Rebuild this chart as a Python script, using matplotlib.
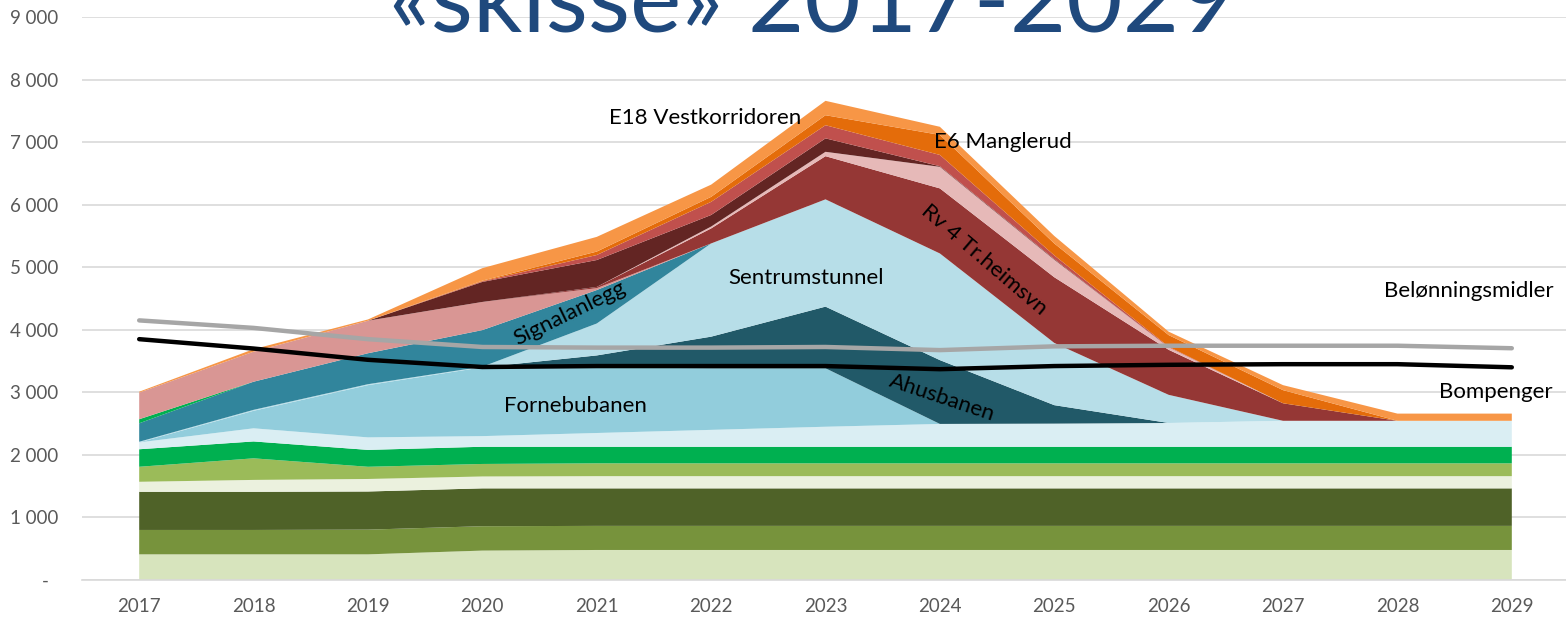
"""Stacked area sketch of Oslopakke 3 spending, 2017-2029."""

import matplotlib
matplotlib.use('Agg')
import matplotlib.pyplot as plt

plt.rcParams['font.family'] = ['Lato', 'DejaVu Sans']

years = [2017, 2018, 2019, 2020, 2021, 2022, 2023, 2024, 2025, 2026, 2027, 2028, 2029]

# stacked series, bottom to top
base_light = [410, 410, 410, 470, 480, 480, 480, 480, 480, 480, 480, 480, 480]
base_mid = [390, 390, 395, 390, 385, 385, 385, 385, 385, 385, 385, 385, 385]
base_dark = [610, 610, 610, 605, 600, 600, 600, 600, 600, 600, 600, 600, 600]
base_pale = [160, 190, 200, 190, 195, 195, 195, 195, 195, 195, 195, 195, 195]
base_green = [240, 345, 195, 200, 205, 205, 205, 205, 205, 205, 205, 205, 205]
base_bright = [280, 270, 270, 275, 265, 265, 265, 265, 265, 265, 265, 265, 265]
base_blue = [110, 210, 200, 170, 220, 270, 320, 365, 370, 380, 415, 415, 415]
fornebu = [0, 280, 835, 1100, 1050, 985, 935, 0, 0, 0, 0, 0, 0]
ahus = [0, 0, 0, 0, 190, 505, 985, 1020, 295, 0, 0, 0, 0]
sentrum = [10, 15, 15, 10, 510, 1490, 1715, 1705, 995, 450, 0, 0, 0]
signal = [295, 450, 495, 585, 535, 0, 0, 0, 0, 0, 0, 0, 0]
green_bit = [65, 0, 0, 0, 0, 0, 0, 0, 0, 0, 0, 0, 0]
pink = [425, 480, 520, 450, 30, 0, 0, 0, 0, 0, 0, 0, 0]
rv4 = [0, 0, 0, 0, 20, 240, 690, 1040, 1050, 720, 280, 0, 0]
pale_pink = [0, 0, 0, 0, 0, 30, 70, 345, 280, 40, 0, 0, 0]
brown = [0, 0, 0, 320, 430, 185, 215, 10, 10, 0, 0, 0, 0]
red = [0, 0, 0, 10, 80, 210, 210, 180, 60, 10, 0, 0, 0]
e6 = [0, 0, 0, 10, 55, 80, 160, 320, 190, 185, 210, 0, 0]
e18 = [15, 40, 20, 200, 235, 195, 230, 130, 120, 55, 80, 115, 115]

belonning = [4150, 4030, 3850, 3725, 3715, 3715, 3725, 3675, 3735, 3745, 3745, 3745, 3705]
bompenger = [3850, 3700, 3520, 3405, 3420, 3420, 3420, 3370, 3420, 3440, 3450, 3450, 3400]

yticks = [0, 1000, 2000, 3000, 4000, 5000, 6000, 7000, 8000, 9000]
ytick_labels = ['-  ', '1 000', '2 000', '3 000', '4 000', '5 000',
                '6 000', '7 000', '8 000', '9 000']

series = [base_light, base_mid, base_dark, base_pale, base_green, base_bright,
          base_blue, fornebu, ahus, sentrum, signal, green_bit, pink, rv4,
          pale_pink, brown, red, e6, e18]
colors = ['#D7E4BD', '#77933C', '#4F6228', '#EBF1DE', '#9BBB59', '#00B050',
          '#DAEEF3', '#92CDDC', '#215968', '#B7DEE8', '#31859C', '#00B050',
          '#D99694', '#953735', '#E6B9B8', '#632523', '#C0504D', '#E46C0A',
          '#F79646']

TICK_COLOR = '#595959'
GRID_COLOR = '#D9D9D9'
TITLE_COLOR = '#1F497D'

fig = plt.figure(figsize=(15.66, 6.17), dpi=100)
fig.patch.set_facecolor('white')
ax = fig.add_axes([82 / 1566, 37 / 617, 1487 / 1566, 563 / 617])

ax.stackplot(years, *series, colors=colors, linewidth=0, zorder=2)

ax.plot(years, belonning, color='#A6A6A6', lw=3.2, solid_capstyle='round', zorder=4)
ax.plot(years, bompenger, color='black', lw=3.2, solid_capstyle='round', zorder=4)

ax.set_xlim(2016.5, 2029.5)
ax.set_ylim(0, 9000)
ax.set_xticks(years)
ax.set_xticklabels([str(y) for y in years])
ax.set_yticks(yticks)
ax.set_yticklabels(ytick_labels)
ax.tick_params(axis='both', length=0, labelsize=13.5, colors=TICK_COLOR)
ax.tick_params(axis='x', pad=13)
ax.tick_params(axis='y', pad=17)
ax.grid(axis='y', color=GRID_COLOR, lw=1.2, zorder=0)
ax.set_axisbelow(True)
for side in ['left', 'right', 'top']:
    ax.spines[side].set_visible(False)
ax.spines['bottom'].set_color(GRID_COLOR)
ax.spines['bottom'].set_linewidth(1.2)

# labels inside the chart
lab = dict(fontsize=16, color='black', ha='center', va='center', zorder=5)
ax.text(2021.95, 7385, 'E18 Vestkorridoren', **lab)
ax.text(2024.55, 7000, 'E6 Manglerud', **lab)
ax.text(2022.83, 4830, 'Sentrumstunnel', **lab)
ax.text(2020.76, 4270, 'Signalanlegg', rotation=26, **lab)
ax.text(2020.81, 2780, 'Fornebubanen', **lab)
ax.text(2024.02, 2910, 'Ahusbanen', rotation=-18.5, **lab)
ax.text(2024.39, 5115, 'Rv 4 Tr.heimsvn', rotation=-40.5, **lab)
ax.text(2028.62, 4620, 'Belønningsmidler', **lab)
ax.text(2028.86, 3005, 'Bompenger', **lab)

fig.text(812 / 1566, (617 - 32) / 617, '«skisse» 2017-2029', fontsize=70,
         color=TITLE_COLOR, ha='center', va='baseline')

fig.savefig('out.png', dpi=100, facecolor='white')
plt.close(fig)
